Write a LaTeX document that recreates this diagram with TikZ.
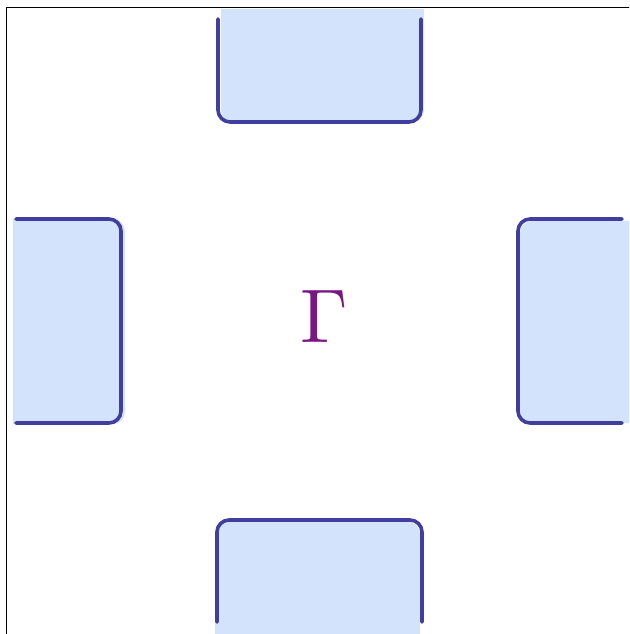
\documentclass[tikz,border=0pt]{standalone}
\usepackage{xcolor}
\usepackage{graphicx}
\definecolor{edgec}{RGB}{64,62,158}
\definecolor{fillc}{RGB}{212,227,252}
\definecolor{gammac}{RGB}{122,22,132}
\tikzset{
  padfill/.style={fill=fillc, rounded corners=12pt},
  padsq/.style={fill=fillc},
  padedge/.style={draw=edgec, line width=3.6pt, rounded corners=12pt, line cap=round, line join=round},
  frame/.style={draw=black, line width=1.8pt}
}
\begin{document}
\begin{tikzpicture}[x=1pt,y=-1pt]
\useasboundingbox (0,0) rectangle (629,634);
\clip (0,0) rectangle (629,634);
% frame
\draw[frame] (6.5,700) -- (6.5,7.5) -- (700,7.5);
% top pad
\fill[padfill] (221,9) rectangle (424,122);
\fill[padsq] (221,9) rectangle (424,60);
\draw[padedge] (218,19) -- (218,122) -- (421,122) -- (421,19);
% left pad
\fill[padfill] (13,219) rectangle (125,424);
\fill[padsq] (13,219) rectangle (60,424);
\draw[padedge] (16,219) -- (121,219) -- (121,423) -- (16,423);
% right pad
\fill[padfill] (520,221) rectangle (640,423);
\fill[padsq] (580,221) rectangle (640,423);
\draw[padedge] (622,219) -- (518,219) -- (518,423) -- (622,423);
% bottom pad
\fill[padfill] (215,522) rectangle (420,640);
\fill[padsq] (215,580) rectangle (420,640);
\draw[padedge] (217,622) -- (217,520) -- (422,520) -- (422,622);
% label
\node[text=gammac, inner sep=0pt] (gam) at (324,316) {\resizebox{!}{52pt}{$\Gamma$}};
\end{tikzpicture}
\end{document}
